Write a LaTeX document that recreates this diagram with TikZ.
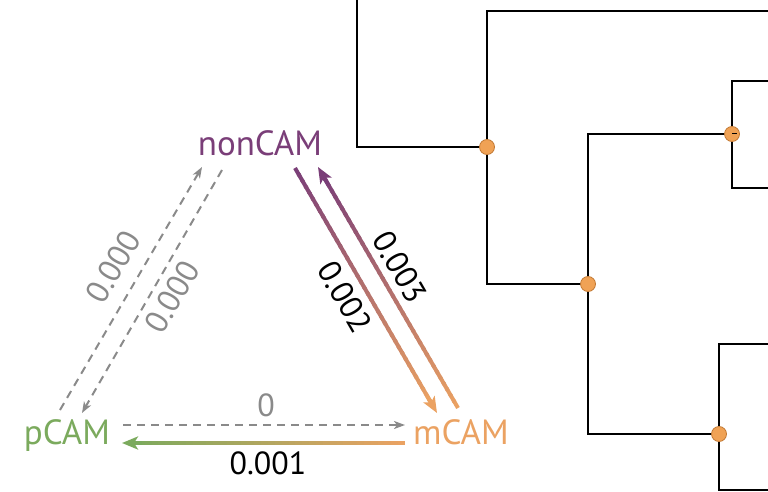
\documentclass[tikz,border=0pt]{standalone}
\usepackage{fontspec}
\setmainfont{PT Sans}
\usepackage{tikz}
\usetikzlibrary{arrows.meta,calc}

\definecolor{camPurple}{HTML}{7A3E78}
\definecolor{camOrange}{HTML}{EBA262}
\definecolor{camGreen}{HTML}{7BAA5D}
\definecolor{dashGrey}{HTML}{8A8A8A}
\definecolor{nodeOrange}{HTML}{F0A255}
\definecolor{nodeRim}{HTML}{C27A35}

% gradient arrow: start, end, start colour, end colour
\newcommand\gradarrow[4]{%
  \coordinate (ga-stop) at ($(#2)!9pt!(#1)$);
  \foreach \k in {1,...,40}{%
    \pgfmathsetmacro\mixpct{100-100*(\k-0.5)/40}%
    \draw[flow line, color=#3!\mixpct!#4] ($(#1)!{(\k-1)/40}!(ga-stop)$) -- ($(#1)!{min(1,(\k+0.4)/40)}!(ga-stop)$);
  }%
  \draw[flow line, #4, -{Stealth[length=16pt,width=13pt,inset=4pt]}] ($(#2)!20pt!(#1)$) -- (#2);
}

\begin{document}
\begin{tikzpicture}[x=1pt, y=-1pt,
  state/.style={font=\fontsize{35}{35}\selectfont, anchor=base, inner sep=0pt},
  rate/.style={font=\fontsize{32}{32}\selectfont, inner sep=0pt},
  flow line/.style={line width=4pt},
  zero line/.style={dashGrey, line width=2pt, dash pattern=on 8pt off 6pt, -{Stealth[length=11pt,width=8pt,inset=3pt]}},
  branch/.style={line width=2.8pt},
  junction/.style={circle, fill=nodeOrange, draw=nodeRim, line width=0.8pt, minimum size=15pt, inner sep=0pt}]

  \useasboundingbox (0,0) rectangle (768,492);

  % states
  \node[state, camPurple] (non) at (260,155) {nonCAM};
  \node[state, camGreen] (p) at (67,444) {pCAM};
  \node[state, camOrange] (m) at (461,444) {mCAM};

  % arrow ends
  \coordinate (pm-a) at (123,425);  \coordinate (pm-b) at (405,425);
  \coordinate (mp-a) at (405,443);  \coordinate (mp-b) at (122,443);
  \coordinate (nm-a) at (295,168);  \coordinate (nm-b) at (437,413);
  \coordinate (mn-a) at (458,408);  \coordinate (mn-b) at (318,167);
  \coordinate (pn-a) at (60,410);   \coordinate (pn-b) at (202,167);
  \coordinate (np-a) at (222,170);  \coordinate (np-b) at (82,413);

  % transitions
  \draw[zero line] (pm-a) -- (pm-b);
  \draw[zero line] (pn-a) -- (pn-b);
  \draw[zero line] (np-a) -- (np-b);
  \gradarrow{mp-a}{mp-b}{camOrange}{camGreen}
  \gradarrow{nm-a}{nm-b}{camPurple}{camOrange}
  \gradarrow{mn-a}{mn-b}{camOrange}{camPurple}

  % rates
  \node[rate, dashGrey] (r-pm) at (266,405) {0};
  \node[rate] (r-mp) at (268,463) {0.001};
  \node[rate, dashGrey, rotate=60] (r-pn) at (113,267) {0.000};
  \node[rate, dashGrey, rotate=60] (r-np) at (172,297) {0.000};
  \node[rate, rotate=-60] (r-nm) at (345,297) {0.002};
  \node[rate, rotate=-60] (r-mn) at (400,267) {0.003};

  % tree
  \coordinate (j1) at (487,147);
  \coordinate (j2) at (588,284);
  \coordinate (j3) at (732,134);
  \coordinate (j4) at (719,434);
  \coordinate (t0) at (357,-5);
  \coordinate (t1) at (775,11);
  \coordinate (t2) at (775,81);
  \coordinate (t3) at (775,188);
  \coordinate (t4) at (775,344);
  \coordinate (t5) at (775,490);
  \draw[branch] (t0) |- (j1);
  \draw[branch] (t1) -| (j1) |- (j2);
  \draw[branch] (j3) -| (j2) |- (j4);
  \draw[branch] (t2) -| (j3) |- (t3);
  \draw[branch] (t4) -| (j4) |- (t5);
  \foreach \j in {j1,j2,j3,j4}
    \node[junction] at (\j) {};
  \draw[line width=1pt] (j3) -- ++(5,0);

\end{tikzpicture}
\end{document}
